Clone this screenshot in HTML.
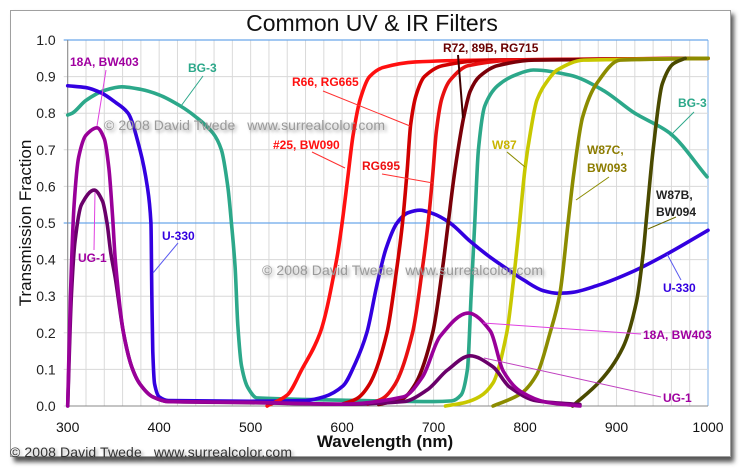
<!DOCTYPE html>
<html><head><meta charset="utf-8">
<style>
body{margin:0;background:#fff;width:740px;height:468px;overflow:hidden;font-family:"Liberation Sans",sans-serif}
svg{display:block}
</style></head>
<body>
<svg id="chart" width="740" height="468" viewBox="0 0 740 468" xmlns="http://www.w3.org/2000/svg">
<defs>
<filter id="sh" x="-5%" y="-5%" width="115%" height="115%"><feGaussianBlur stdDeviation="2.5"/></filter>
<filter id="tsh" x="-10%" y="-50%" width="120%" height="250%"><feGaussianBlur stdDeviation="1.5"/></filter>
</defs>
<rect x="14" y="14" width="720" height="448" fill="#555" filter="url(#sh)"/>
<rect x="10.5" y="10.5" width="720" height="446" fill="#fff" stroke="#a0a0a0"/>
<g id="grid"></g>
<g id="axes"></g>
<g id="series"></g>
<g id="notes"></g>
</svg>
<script>
const xTicks=[300,400,500,600,700,800,900,1000];
const yTicks=[0,0.1,0.2,0.3,0.4,0.5,0.6,0.7,0.8,0.9,1.0];
const seriesNames=["bg3","u330","r25","r66","rg695","rg715","w87","w87c","w87b","ug1","a18"];
const seriesColors=["#2ca88a","#3300e0","#ff1010","#d00000","#e81010","#7a0008","#c8c800","#8c8c00","#4a4a00","#6a006a","#990099"];
const bg3=[[300,0.795],[305,0.80],[320,0.835],[340,0.862],[359,0.872],[380,0.865],[400,0.85],[423,0.82],[440,0.79],[459,0.745],[468,0.7],[475,0.6],[479,0.5],[483,0.38],[486,0.22],[490,0.11],[497,0.05],[507,0.022],[600,0.016],[700,0.012],[720,0.014],[730,0.03],[737,0.1],[741,0.3],[745,0.5],[749,0.7],[756,0.82],[770,0.875],[790,0.905],[809,0.918],[849,0.904],[885,0.863],[920,0.8],[958,0.746],[999,0.626]];
const u330=[[300,0.875],[320,0.87],[337,0.855],[352,0.83],[366,0.8],[379,0.7],[387,0.6],[391,0.5],[392,0.3],[393,0.15],[395,0.06],[400,0.025],[410,0.015],[500,0.013],[560,0.015],[580,0.025],[601,0.055],[615,0.12],[627,0.2],[638,0.33],[648,0.43],[660,0.5],[672,0.528],[685,0.535],[700,0.525],[718,0.5],[740,0.45],[760,0.41],[780,0.375],[798,0.345],[820,0.315],[835,0.308],[850,0.31],[880,0.33],[920,0.37],[955,0.415],[1000,0.48]];
const r25=[[518,0.0],[540,0.03],[556,0.1],[576,0.2],[594,0.4],[600,0.5],[606,0.62],[612,0.74],[620,0.84],[630,0.9],[645,0.925],[680,0.94],[750,0.945],[1000,0.95]];
const r66=[[600,0.005],[616,0.02],[630,0.06],[649,0.2],[660,0.38],[666,0.5],[671,0.64],[675,0.77],[681,0.85],[690,0.9],[710,0.93],[760,0.945],[1000,0.95]];
const rg695=[[628,0.005],[644,0.02],[658,0.06],[677,0.2],[688,0.38],[694,0.5],[699,0.63],[703,0.75],[709,0.84],[718,0.89],[738,0.93],[788,0.945],[1000,0.95]];
const rg715=[[640,0.004],[666,0.02],[680,0.06],[699,0.2],[710,0.38],[716,0.5],[722,0.62],[728,0.72],[733,0.79],[740,0.86],[750,0.9],[770,0.93],[810,0.945],[1000,0.95]];
const w87=[[713,0.0],[735,0.01],[750,0.025],[765,0.063],[780,0.2],[787,0.336],[794,0.5],[800,0.65],[806,0.75],[813,0.836],[825,0.89],[835,0.918],[864,0.945],[1000,0.95]];
const w87c=[[765,0.0],[795,0.033],[813,0.087],[827,0.197],[838,0.306],[847,0.5],[853,0.63],[863,0.79],[878,0.88],[904,0.945],[1000,0.95]];
const w87b=[[852,0.0],[882,0.068],[907,0.16],[922,0.287],[929,0.415],[933,0.52],[940,0.70],[950,0.88],[962,0.935],[975,0.95]];
const ug1=[[300,0.0],[304,0.3],[308,0.45],[315,0.55],[329,0.59],[338,0.56],[343,0.5],[347,0.42],[352,0.35],[361,0.2],[370,0.107],[379,0.06],[393,0.025],[410,0.012],[500,0.009],[600,0.005],[667,0.012],[693,0.044],[715,0.098],[740,0.137],[765,0.107],[783,0.052],[813,0.014],[860,0.004]];
const a18=[[300,0.0],[303,0.3],[307,0.55],[312,0.68],[320,0.74],[332,0.76],[340,0.73],[345,0.65],[349,0.52],[352,0.4],[361,0.2],[370,0.107],[379,0.06],[393,0.025],[410,0.012],[500,0.01],[600,0.005],[667,0.025],[688,0.08],[707,0.19],[738,0.254],[762,0.205],[776,0.096],[795,0.04],[824,0.01],[860,0.0]];
const seriesData=[bg3,u330,r25,r66,rg695,rg715,w87,w87c,w87b,ug1,a18];

const NS="http://www.w3.org/2000/svg";
const X0=67.7,X1=708,Y0=406,Y1=40;
const sx=w=>X0+(w-300)/700*(X1-X0);
const sy=v=>Y0-v*(Y0-Y1);
function mk(tag,parent,attrs){const e=document.createElementNS(NS,tag);for(const k in attrs)e.setAttribute(k,attrs[k]);parent.appendChild(e);return e;}
const grid=document.getElementById('grid'),axes=document.getElementById('axes'),ser=document.getElementById('series'),notes=document.getElementById('notes');
for(let w=300;w<=1000;w+=20){
  const l=mk('line',grid,{x1:sx(w),x2:sx(w),y1:Y1,y2:Y0,stroke:w===1000?'#7fb0e8':'#dadada','stroke-width':1});
  
  
}
yTicks.forEach(v=>{
  const blue=(v===0.5||v===1.0);
  const l=mk('line',grid,{x1:X0-4,x2:X1,y1:sy(v),y2:sy(v),stroke:blue?'#6aa6ea':'#d8d8d8','stroke-width':blue?1.3:1});
  
  
  const t=mk('text',axes,{x:X0-12,y:sy(v)+5,'text-anchor':'end','font-size':14,fill:'#222'});
  t.textContent=v.toFixed(1);
  
  
});
const ax=mk('line',axes,{x1:X0,x2:X0,y1:Y1,y2:Y0,stroke:'#888'});


const bx=mk('line',axes,{x1:X0,x2:X1,y1:Y0,y2:Y0,stroke:'#888'});


xTicks.forEach(w=>{
  const t=mk('text',axes,{x:sx(w),y:432,'text-anchor':'middle','font-size':14,fill:'#111'});
  t.textContent=w;
  
  
});
function pathFor(pts){
  const n=pts.length,xs=pts.map(p=>sx(p[0])),ys=pts.map(p=>sy(p[1]));
  const d=[],m=[];
  for(let i=0;i<n-1;i++)d.push((ys[i+1]-ys[i])/(xs[i+1]-xs[i]));
  m[0]=d[0];m[n-1]=d[n-2];
  for(let i=1;i<n-1;i++)m[i]=(d[i-1]*d[i]<=0)?0:(2/(1/d[i-1]+1/d[i]));
  let s='M'+xs[0].toFixed(2)+','+ys[0].toFixed(2);
  for(let i=0;i<n-1;i++){const h=xs[i+1]-xs[i];
    s+=' C'+(xs[i]+h/3).toFixed(2)+','+(ys[i]+m[i]*h/3).toFixed(2)+' '+(xs[i+1]-h/3).toFixed(2)+','+(ys[i+1]-m[i+1]*h/3).toFixed(2)+' '+xs[i+1].toFixed(2)+','+ys[i+1].toFixed(2);}
  return s;
}
seriesData.forEach((pts,i)=>{
  const p=mk('path',ser,{d:pathFor(pts),fill:'none',stroke:seriesColors[i],'stroke-width':3.6,'stroke-linejoin':'round','stroke-linecap':'round'});
  
  
});
</script>
<svg style="position:absolute;left:0;top:0" width="740" height="468">
<g font-family="Liberation Sans, sans-serif">
<text x="372" y="31" text-anchor="middle" font-size="23" fill="#111">Common UV &amp; IR Filters</text>
<text transform="translate(31,223) rotate(-90)" text-anchor="middle" font-size="17" fill="#111">Transmission Fraction</text>
<text x="385" y="447" text-anchor="middle" font-size="17" font-weight="bold" fill="#111">Wavelength (nm)</text>
<g fill="#888" font-size="14">
<text x="106" y="132" filter="url(#tsh)" fill="#666" opacity="0.6" textLength="281" xml:space="preserve">© 2008 David Twede   www.surrealcolor.com</text>
<text x="104" y="130" fill="#9a9a9a" textLength="281" xml:space="preserve">© 2008 David Twede   www.surrealcolor.com</text>
<text x="264" y="277" filter="url(#tsh)" fill="#666" opacity="0.6" textLength="281" xml:space="preserve">© 2008 David Twede   www.surrealcolor.com</text>
<text x="262" y="275" fill="#9a9a9a" textLength="281" xml:space="preserve">© 2008 David Twede   www.surrealcolor.com</text>
<text x="12" y="459" filter="url(#tsh)" fill="#444" opacity="0.5" textLength="282" xml:space="preserve">© 2008 David Twede   www.surrealcolor.com</text>
<text x="10" y="457" fill="#333" textLength="282" xml:space="preserve">© 2008 David Twede   www.surrealcolor.com</text>
</g>
<g font-size="12" font-weight="bold">
<text x="70" y="66" fill="#a000a0">18A, BW403</text>
<line x1="106" y1="70" x2="97" y2="126" stroke="#e040e0"/>
<text x="188" y="72" fill="#2ca88a">BG-3</text>
<line x1="203" y1="76" x2="181" y2="106" stroke="#2ca88a"/>
<text x="292" y="86" fill="#ff1010">R66, RG665</text>
<line x1="323" y1="91" x2="410" y2="126" stroke="#ff3030"/>
<text x="443" y="52" fill="#6a0000">R72, 89B, RG715</text>
<line x1="458" y1="55" x2="463" y2="118" stroke="#400000" stroke-width="2"/>
<text x="273" y="149" fill="#ff1010">#25, BW090</text>
<line x1="312" y1="152" x2="345" y2="168" stroke="#ff3030"/>
<text x="362" y="170" fill="#ee1010">RG695</text>
<line x1="382" y1="174" x2="433" y2="183" stroke="#ff3030"/>
<text x="492" y="149" fill="#c8b400">W87</text>
<line x1="507" y1="152" x2="525" y2="167" stroke="#8c8c00"/>
<text x="587" y="154" fill="#8c7c00">W87C,</text>
<text x="587" y="172" fill="#8c7c00">BW093</text>
<line x1="609" y1="177" x2="576" y2="200" stroke="#8c8c00"/>
<text x="656" y="199" fill="#222">W87B,</text>
<text x="656" y="216" fill="#222">BW094</text>
<line x1="676" y1="217" x2="648" y2="229" stroke="#6a6a00"/>
<text x="678" y="107" fill="#2ca88a">BG-3</text>
<line x1="694" y1="112" x2="670" y2="136" stroke="#2ca88a"/>
<text x="162" y="240" fill="#3300e0">U-330</text>
<line x1="178" y1="243" x2="153" y2="273" stroke="#5a5af0"/>
<text x="78" y="262" fill="#a000a0">UG-1</text>
<line x1="94" y1="250" x2="95" y2="192" stroke="#e040e0"/>
<text x="663" y="292" fill="#3300e0">U-330</text>
<line x1="681" y1="280" x2="667" y2="254" stroke="#5a5af0"/>
<text x="643" y="339" fill="#a000a0">18A, BW403</text>
<line x1="641" y1="334" x2="483" y2="323" stroke="#e040e0"/>
<text x="663" y="402" fill="#a000a0">UG-1</text>
<line x1="661" y1="397" x2="484" y2="358" stroke="#c040c0"/>
</g>
</g>
</svg>
</body></html>
